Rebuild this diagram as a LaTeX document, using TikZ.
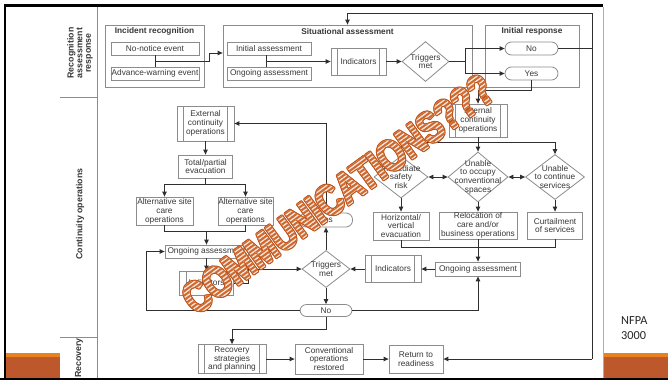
\documentclass[tikz,border=0pt]{standalone}
\usepackage{fontspec}
\setmainfont{Liberation Sans}
\newfontfamily\calfont{Carlito}
\newfontfamily\commfont[FakeStretch=0.76, FakeBold=2]{Liberation Sans}
\usetikzlibrary{shapes.geometric,arrows.meta,calc}
\definecolor{linec}{HTML}{2F2F2F}
\definecolor{boxc}{HTML}{8C8C8C}
\definecolor{txtc}{HTML}{383838}
\definecolor{orA}{HTML}{E8821E}
\definecolor{orB}{HTML}{BD582C}
\definecolor{ovS}{HTML}{D2682C}
\definecolor{ovO}{HTML}{C0561C}
\definecolor{ovW}{HTML}{F3EAE3}
\tikzset{
  wh/.style 2 args={minimum width=#1pt, minimum height=#2pt},
  box/.style={draw=boxc, line width=0.8pt, fill=white, inner sep=0pt, align=center, text=txtc, font=\fontsize{8.3}{8.9}\selectfont},
  grp/.style={draw=boxc, line width=0.8pt, inner sep=0pt},
  pbox/.style={box, path picture={
    \draw[boxc, line width=0.8pt] ([xshift=6.5pt]path picture bounding box.north west) -- ([xshift=6.5pt]path picture bounding box.south west);
    \draw[boxc, line width=0.8pt] ([xshift=-6.5pt]path picture bounding box.north east) -- ([xshift=-6.5pt]path picture bounding box.south east);}},
  pill/.style={box, rounded corners=6.5pt},
  dia/.style={draw=boxc, line width=0.8pt, fill=white, diamond, inner sep=0pt},
  dtxt/.style={inner sep=0pt, align=center, text=txtc, font=\fontsize{8.3}{8.6}\selectfont},
  ttl/.style={inner sep=0pt, text=txtc, font=\fontsize{8.3}{9}\selectfont\bfseries},
  lane/.style={inner sep=0pt, align=center, rotate=90, text=txtc, font=\fontsize{8.8}{8.6}\selectfont\bfseries},
  con/.style={draw=linec, line width=0.9pt},
  arr/.style={con, -{Triangle[length=5pt,width=4.5pt]}},
  darr/.style={con, {Triangle[length=5pt,width=4.5pt]}-{Triangle[length=5pt,width=4.5pt]}},
  ovl/.style={inner sep=0pt, transform shape, font=\commfont\bfseries\fontsize{44}{44}\selectfont},
  nf/.style={inner sep=0pt, text=black!85, font=\calfont\fontsize{12.3}{14}\selectfont},
}
\begin{document}
\begin{tikzpicture}[x=1pt,y=-1pt]
\useasboundingbox (0,0) rectangle (668,380);
\fill[white] (0,0) rectangle (668,380);
% slide frame
\fill[orA] (6,353) rectangle (60,357);
\fill[orB] (6,357) rectangle (60,378);
\fill[orA] (603,353) rectangle (668,357);
\fill[orB] (603,357) rectangle (668,378);
\draw[black, line width=2pt] (5,4) -- (5,380);
\draw[black, line width=2pt] (0,379) -- (668,379);
\draw[black, line width=3pt] (4,5.5) -- (603,5.5);
\draw[boxc!70, line width=1pt] (603,7) -- (603,378);
% lanes
\draw[boxc, line width=0.9pt] (97,7) -- (97,378);
\draw[boxc, line width=0.9pt] (60,97) -- (97,97);
\draw[boxc, line width=0.9pt] (60,337) -- (97,337);
\node[lane] (l1) at (80,53) {Recognition\\assessment\\response};
\node[lane] (l2) at (80,214) {Continuity operations};
\node[lane] (l3) at (79,358) {Recovery};
% top lane groups
\node[grp, wh={99}{62}] (ir) at (154.5,56) {};
\node[ttl] (irt) at (154.5,31.5) {Incident recognition};
\node[grp, wh={249}{62}] (sa) at (347.5,56) {};
\node[ttl] (sat) at (347.5,31.5) {Situational assessment};
\node[grp, wh={94}{62}] (irp) at (532,56) {};
\node[ttl] (irpt) at (532,31.5) {Initial response};
% top lane nodes
\node[box, wh={88}{13}] (nonotice) at (155,48.5) {No-notice event};
\node[box, wh={88}{13}] (advwarn) at (155,73.5) {Advance-warning event};
\node[box, wh={84}{13}] (initass) at (269,48.5) {Initial assessment};
\node[box, wh={84}{13}] (ongass1) at (269,73.5) {Ongoing assessment};
\node[pbox, wh={55}{27}] (ind1) at (358.5,61.5) {Indicators};
\node[dia, wh={47}{40}] (trig1) at (425.5,61.5) {};
\node[dtxt] (trig1t) at (425.5,61.5) {Triggers\\met};
\node[pill, wh={53}{13}] (no1) at (531.5,48.5) {No};
\node[pill, wh={53}{13}] (yes1) at (531.5,73.5) {Yes};
% continuity lane
\node[pbox, wh={58}{33}] (ico) at (478,120.5) {Internal\\continuity\\operations};
\node[dia, wh={54}{42}] (isr) at (401,177) {};
\node[dtxt] (isrt) at (401,177) {Immediate\\safety\\risk};
\node[dia, wh={60}{50}] (uoc) at (478,177) {};
\node[dtxt] (uoct) at (478,177) {Unable\\to occupy\\conventional\\spaces};
\node[dia, wh={59}{45}] (ucs) at (555,177) {};
\node[dtxt] (ucst) at (555,177) {Unable\\to continue\\services};
\node[box, wh={56}{28}] (hve) at (401,226) {Horizontal/\\vertical\\evacuation};
\node[box, wh={78}{27}] (rel) at (478,225.5) {Relocation of\\care and/or\\business operations};
\node[box, wh={55}{27}] (cur) at (555,225.5) {Curtailment\\of services};
\node[box, wh={85}{14}] (ongass2) at (478,269) {Ongoing assessment};
\node[pbox, wh={56}{27}] (ind2) at (393,269) {Indicators};
\node[dia, wh={48}{37}] (trig2) at (326,269) {};
\node[dtxt] (trig2t) at (326,269) {Triggers\\met};
\node[pill, wh={53}{14}] (yes2) at (326,220) {Yes};
\node[pill, wh={52}{12}] (no2) at (326,310.5) {No};
\node[pbox, wh={57}{35}] (eco) at (205.5,123.5) {External\\continuity\\operations};
\node[box, wh={54}{23}] (tpe) at (205.5,166.5) {Total/partial\\evacuation};
\node[box, wh={57}{28}] (asc1) at (164.5,211) {Alternative site\\care\\operations};
\node[box, wh={55}{28}] (asc2) at (245.5,211) {Alternative site\\care\\operations};
\node[box, wh={83}{13}] (ongL) at (206.5,251.5) {Ongoing assessment};
\node[pbox, wh={54}{24}] (ind3) at (206.5,283) {Indicators};
% recovery lane
\node[pbox, wh={68}{29}] (rsp) at (232,359) {Recovery\\strategies\\and planning};
\node[box, wh={68}{30}] (cor) at (329,359) {Conventional\\operations\\restored};
\node[box, wh={54}{28}] (rtr) at (416,359) {Return to\\readiness};
% helper coordinates
\coordinate (c53) at (0,53);
\coordinate (j2) at (266,61.5);
\coordinate (j3) at (465,61.5);
\coordinate (tr) at (592,13);
\coordinate (j4) at (478,142);
\coordinate (j6) at (206.5,231);
\coordinate (c146) at (146,0);
% top connectors
\draw[con] (nonotice.south) -- (advwarn.north);
\coordinate (j1) at ($(nonotice.south)!0.5!(advwarn.north)$);
\draw[arr] (j1) -- ++(54,0) -- ++(0,-8) -- (sa.west |- c53);
\draw[con] (j2 |- initass.south) -- (j2 |- ongass1.north);
\draw[arr] (j2) -- (ind1.west);
\draw[arr] (ind1.east) -- (trig1.west);
\draw[con] (trig1.east) -- (j3);
\draw[arr] (j3) |- (no1.west);
\draw[arr] (j3) |- (yes1.west);
\draw[con] (no1.east) -- (no1.east -| tr);
\draw[arr] (tr |- rtr.east) -- (tr) -| (sa.north);
\draw[arr] (tr |- rtr.east) -- (rtr.east);
\draw[arr] (yes1.south) -- ++(0,10) -| (ico.north);
% continuity connectors
\draw[con] (ico.south) -- (j4);
\draw[con] (j4 -| isr.north) -- (j4 -| ucs.north);
\draw[arr] (j4 -| isr.north) -- (isr.north);
\draw[arr] (j4) -- (uoc.north);
\draw[arr] (j4 -| ucs.north) -- (ucs.north);
\draw[darr] (isr.east) -- (uoc.west);
\draw[darr] (uoc.east) -- (ucs.west);
\draw[arr] (isr.south) -- (hve.north);
\draw[arr] (uoc.south) -- (rel.north);
\draw[arr] (ucs.south) -- (cur.north);
\draw[con] (hve.south) -- ++(0,7) -| (cur.south);
\draw[arr] (rel.south) -- (ongass2.north);
\draw[arr] (ongass2.west) -- (ind2.east);
\draw[arr] (ind2.west) -- (trig2.east);
\draw[arr] (trig2.north) -- (yes2.south);
\draw[arr] (trig2.south) -- (no2.north);
\draw[arr] (yes2.north) |- (eco.east);
\draw[arr] (eco.south) -- (tpe.north);
\draw[con] (tpe.south) -- ++(0,6) coordinate (j5);
\draw[arr] (j5) -| (asc1.north);
\draw[arr] (j5) -| (asc2.north);
\draw[con] (asc1.south) -- ++(0,6) -| (asc2.south);
\draw[arr] (j6) -- (ongL.north);
\draw[arr] (ongL.south) -- (ind3.north);
\draw[arr] (ind3.east) -- ++(15,0) |- (trig2.west);
\draw[arr] (no2.west) -- (no2.west -| c146) |- (ongL.west);
\draw[arr] (no2.east) -| (ongass2.south);
\draw[arr] (no2.south) -- ++(0,13) -| (rsp.north);
% recovery connectors
\draw[arr] (rsp.east) -- (cor.west);
\draw[arr] (cor.east) -- (rtr.west);
% side text
\node[nf, anchor=base west] (nf1) at (621,324) {NFPA};
\node[nf, anchor=base west] (nf2) at (621,339) {3000};
% overlay
\begin{scope}[shift={(338,194)}, rotate=36]
  \foreach \dx/\dy [count=\i] in {1.2/0,-1.2/0,0/1.2,0/-1.2,0.85/0.85,-0.85/0.85,0.85/-0.85,-0.85/-0.85}{
    \node[ovl, text=ovO] (commO\i) at (\dx pt,\dy pt) {COMMUNICATIONS???};}
  \node[ovl, text=ovW] (comm) at (0,0) {COMMUNICATIONS???};
  \foreach \k [count=\i] in {-7,...,7}{
    \begin{scope}
      \clip (-260pt,\k*3.6pt) rectangle (260pt,\k*3.6pt+2pt);
      \node[ovl, text=ovS] (commS\i) at (0,0) {COMMUNICATIONS???};
    \end{scope}}
\end{scope}
\end{tikzpicture}
\end{document}
